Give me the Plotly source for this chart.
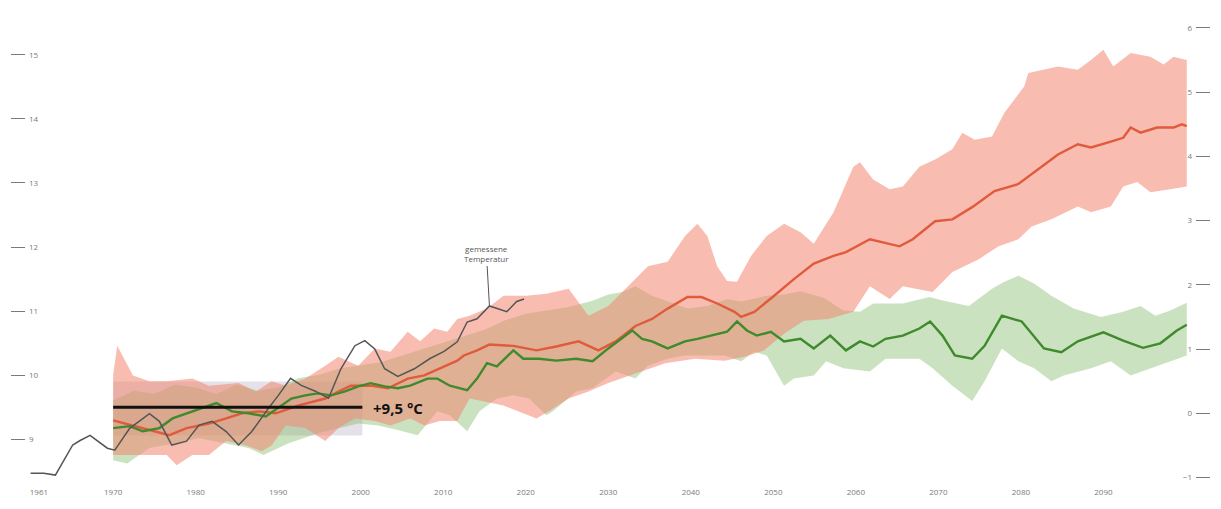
import plotly.graph_objects as go

# ---- measured temperature (absolute, left axis, °C) ----
meas_year = [1960.0, 1961.6, 1963.0, 1965.1, 1966.0, 1967.2, 1969.3, 1970.2, 1972.0, 1974.4,
             1975.6, 1977.1, 1978.9, 1980.4, 1982.0, 1983.7, 1985.2, 1986.8, 1988.8, 1990.0,
             1991.5, 1992.8, 1994.5, 1996.1, 1997.6, 1999.3, 2000.5, 2001.7, 2002.9, 2004.5,
             2006.5, 2008.4, 2010.1, 2011.7, 2012.9, 2014.1, 2015.6, 2016.5, 2017.7, 2018.9, 2019.8]
meas_temp = [8.47, 8.47, 8.44, 8.91, 8.98, 9.06, 8.86, 8.83, 9.17, 9.40,
             9.28, 8.91, 8.97, 9.22, 9.28, 9.12, 8.91, 9.12, 9.48, 9.68,
             9.95, 9.84, 9.75, 9.64, 10.10, 10.46, 10.54, 10.41, 10.10, 9.98,
             10.10, 10.26, 10.37, 10.52, 10.83, 10.88, 11.08, 11.04, 10.99, 11.15, 11.19]

# ---- high-emission scenario (anomaly, right axis) ----
red_year = [1970.0, 1972.4, 1974.4, 1976.8, 1978.9, 1980.4, 1981.6, 1983.7, 1985.6, 1987.6,
            1989.7, 1992.4, 1995.7, 1997.3, 1998.8, 2001.2, 2003.3, 2005.7, 2007.7, 2009.6,
            2011.7, 2012.5, 2014.1, 2015.6, 2018.5, 2021.3, 2023.7, 2026.4, 2028.8, 2030.9,
            2033.3, 2035.3, 2037.2, 2039.6, 2041.3, 2043.2, 2045.3, 2046.1, 2047.7, 2050.1,
            2052.5, 2054.9, 2057.3, 2058.8, 2061.7, 2065.3, 2066.9, 2069.6, 2071.7, 2074.1,
            2076.8, 2079.7, 2081.3, 2084.5, 2086.9, 2088.5, 2090.9, 2092.4, 2093.3, 2094.5,
            2096.5, 2098.5, 2099.5, 2100.1]
red_mid = [-0.11, -0.19, -0.26, -0.34, -0.23, -0.19, -0.16, -0.08, 0.00, 0.03,
           0.00, 0.12, 0.23, 0.34, 0.43, 0.43, 0.39, 0.54, 0.59, 0.70,
           0.82, 0.90, 0.98, 1.07, 1.05, 0.98, 1.04, 1.12, 0.98, 1.12,
           1.36, 1.47, 1.63, 1.81, 1.81, 1.71, 1.58, 1.50, 1.58, 1.83,
           2.09, 2.33, 2.45, 2.51, 2.71, 2.60, 2.71, 2.99, 3.02, 3.21,
           3.46, 3.57, 3.72, 4.03, 4.19, 4.14, 4.23, 4.29, 4.45, 4.37,
           4.45, 4.45, 4.50, 4.47]

red_up_year = [1970.0, 1970.5, 1972.4, 1974.4, 1976.5, 1979.6, 1981.6, 1985.2, 1987.3, 1989.2,
               1990.9, 1993.3, 1995.7, 1997.3, 1999.7, 2001.7, 2003.6, 2005.7, 2007.2, 2008.9,
               2010.5, 2011.7, 2013.2, 2015.3, 2017.3, 2020.1, 2022.5, 2025.2, 2027.6, 2030.0,
               2032.4, 2034.8, 2037.2, 2039.3, 2040.8, 2042.0, 2043.2, 2044.4, 2045.6, 2047.3,
               2049.2, 2051.3, 2053.3, 2054.9, 2057.3, 2059.7, 2060.5, 2062.1, 2064.1, 2065.7,
               2067.7, 2069.6, 2071.7, 2072.9, 2074.4, 2076.5, 2078.0, 2080.4, 2080.9, 2084.5,
               2086.9, 2088.5, 2090.0, 2091.2, 2093.3, 2095.7, 2097.3, 2098.5, 2100.1]
red_up = [0.60, 1.05, 0.59, 0.50, 0.50, 0.54, 0.43, 0.47, 0.34, 0.50,
          0.43, 0.54, 0.74, 0.88, 0.74, 1.01, 0.96, 1.27, 1.12, 1.32,
          1.27, 1.47, 1.52, 1.63, 1.83, 1.83, 1.86, 1.94, 1.52, 1.67,
          1.98, 2.29, 2.36, 2.76, 2.95, 2.76, 2.29, 2.06, 2.05, 2.45,
          2.76, 2.95, 2.82, 2.64, 3.13, 3.84, 3.91, 3.64, 3.49, 3.53,
          3.84, 3.95, 4.11, 4.37, 4.26, 4.31, 4.68, 5.09, 5.30, 5.40,
          5.35, 5.50, 5.66, 5.40, 5.61, 5.55, 5.43, 5.55, 5.50]

red_lo_year = [1970.0, 1972.4, 1976.5, 1977.7, 1979.6, 1981.6, 1983.7, 1986.1, 1988.0, 1989.2,
               1990.9, 1993.3, 1995.7, 1997.3, 1999.3, 2001.7, 2003.6, 2006.0, 2007.7, 2009.6,
               2011.7, 2013.2, 2017.3, 2021.3, 2022.8, 2025.2, 2027.6, 2030.0, 2033.3, 2036.9,
               2040.5, 2044.1, 2046.5, 2048.9, 2051.3, 2053.7, 2056.7, 2059.7, 2061.7, 2064.1,
               2065.7, 2069.3, 2071.7, 2074.9, 2077.3, 2079.7, 2081.3, 2083.7, 2086.9, 2088.5,
               2090.9, 2092.4, 2094.1, 2095.7, 2098.1, 2100.1]
red_lo = [-0.65, -0.65, -0.65, -0.81, -0.65, -0.65, -0.43, -0.50, -0.59, -0.50,
          -0.19, -0.23, -0.43, -0.23, -0.08, -0.12, -0.19, -0.08, -0.19, -0.12,
          -0.12, 0.23, 0.12, -0.08, 0.03, 0.23, 0.34, 0.47, 0.62, 0.78,
          0.85, 0.82, 0.88, 0.98, 1.24, 1.44, 1.47, 1.58, 1.98, 1.78,
          1.98, 1.89, 2.20, 2.40, 2.60, 2.71, 2.91, 3.02, 3.22, 3.13,
          3.22, 3.53, 3.60, 3.44, 3.49, 3.53]

# ---- climate-protection scenario (anomaly, right axis) ----
green_year = [1970.0, 1972.0, 1973.6, 1975.6, 1977.2, 1978.9, 1980.8, 1982.5, 1984.4, 1986.4,
              1988.5, 1990.0, 1991.6, 1993.3, 1994.8, 1996.4, 1998.1, 1999.7, 2001.2, 2002.9,
              2004.5, 2006.0, 2008.1, 2009.3, 2010.8, 2012.9, 2014.1, 2015.3, 2016.5, 2018.5,
              2019.7, 2021.6, 2023.7, 2026.1, 2028.1, 2030.0, 2032.9, 2034.1, 2035.3, 2037.2,
              2039.3, 2040.8, 2042.5, 2044.4, 2045.6, 2046.8, 2048.0, 2049.7, 2051.3, 2053.3,
              2054.9, 2056.9, 2058.8, 2060.5, 2062.1, 2063.6, 2065.7, 2067.7, 2069.0, 2070.5,
              2072.0, 2074.1, 2075.6, 2077.7, 2080.1, 2082.8, 2084.9, 2086.9, 2090.0, 2092.4,
              2094.8, 2096.9, 2098.9, 2100.1]
green_mid = [-0.23, -0.20, -0.28, -0.23, -0.08, 0.00, 0.08, 0.16, 0.03, 0.00,
             -0.05, 0.08, 0.23, 0.28, 0.31, 0.28, 0.34, 0.42, 0.47, 0.42,
             0.39, 0.43, 0.54, 0.54, 0.43, 0.36, 0.54, 0.78, 0.73, 0.98,
             0.85, 0.85, 0.82, 0.85, 0.81, 1.01, 1.29, 1.16, 1.12, 1.01,
             1.12, 1.16, 1.21, 1.27, 1.43, 1.29, 1.21, 1.27, 1.12, 1.16,
             1.01, 1.21, 0.98, 1.12, 1.04, 1.16, 1.21, 1.32, 1.43, 1.21,
             0.90, 0.85, 1.05, 1.52, 1.43, 1.01, 0.95, 1.12, 1.26, 1.13,
             1.02, 1.09, 1.29, 1.38]

green_up_year = [1970.0, 1972.5, 1975.0, 1977.5, 1980.0, 1982.5, 1985.0, 1987.5, 1990.0, 1992.5,
                 1995.0, 1997.5, 2000.0, 2002.5, 2005.0, 2007.5, 2010.0, 2012.5, 2015.0, 2017.5,
                 2020.0, 2022.5, 2025.0, 2028.0, 2030.0, 2031.7, 2033.3, 2035.3, 2037.2, 2039.6,
                 2042.0, 2044.4, 2046.1, 2049.2, 2051.3, 2053.3, 2056.1, 2058.5, 2060.5, 2062.1,
                 2065.7, 2068.9, 2070.8, 2073.7, 2076.5, 2078.0, 2079.7, 2081.6, 2083.7, 2086.4,
                 2089.7, 2092.4, 2094.5, 2096.3, 2098.1, 2100.1]
green_up = [0.20, 0.35, 0.30, 0.45, 0.40, 0.30, 0.45, 0.35, 0.40, 0.55,
            0.60, 0.70, 0.75, 0.80, 0.90, 1.00, 1.10, 1.20, 1.30, 1.45,
            1.55, 1.60, 1.65, 1.75, 1.85, 1.89, 1.98, 1.83, 1.74, 1.63,
            1.67, 1.78, 1.74, 1.83, 1.85, 1.90, 1.80, 1.60, 1.58, 1.71,
            1.71, 1.81, 1.75, 1.67, 1.94, 2.05, 2.14, 2.02, 1.83, 1.63,
            1.50, 1.58, 1.67, 1.52, 1.60, 1.72]

green_lo_year = [1970.0, 1971.7, 1974.4, 1977.4, 1980.4, 1983.4, 1986.4, 1988.2, 1991.2, 1994.8,
                 1997.3, 1999.7, 2002.1, 2004.5, 2006.9, 2009.3, 2010.8, 2012.9, 2014.4, 2016.5,
                 2018.5, 2020.4, 2022.5, 2023.3, 2026.1, 2028.1, 2030.9, 2033.3, 2034.8, 2037.2,
                 2039.3, 2042.0, 2044.1, 2046.1, 2047.7, 2049.2, 2051.3, 2052.5, 2054.9, 2056.4,
                 2058.5, 2061.7, 2063.6, 2067.7, 2069.3, 2071.7, 2074.1, 2075.6, 2077.7, 2079.7,
                 2081.6, 2083.7, 2085.2, 2088.5, 2090.9, 2093.3, 2095.7, 2098.1, 2100.1]
green_lo = [-0.73, -0.78, -0.54, -0.47, -0.39, -0.47, -0.54, -0.65, -0.47, -0.31,
            -0.23, -0.16, -0.19, -0.26, -0.34, 0.03, -0.03, -0.28, 0.03, 0.23,
            0.28, 0.23, -0.03, 0.03, 0.34, 0.39, 0.65, 0.54, 0.74, 0.85,
            0.90, 0.90, 0.90, 0.81, 0.96, 0.90, 0.43, 0.54, 0.59, 0.81,
            0.70, 0.65, 0.85, 0.85, 0.70, 0.43, 0.19, 0.50, 1.01, 0.81,
            0.70, 0.50, 0.59, 0.70, 0.81, 0.59, 0.70, 0.81, 0.90]

# ---- reference period 1970-2000 (left axis) ----
ref_years = [1970.0, 2000.2]
ref_band = [9.06, 9.90]
ref_level = 9.5
ref_label = "+9,5 °C"
meas_label = "gemessene<br>Temperatur"
meas_label_year = 2015.6
meas_label_value = 11.08

x_ticks = [1961, 1970, 1980, 1990, 2000, 2010, 2020, 2030, 2040, 2050, 2060, 2070, 2080, 2090, 2100]
left_ticks = [9, 10, 11, 12, 13, 14, 15]
right_ticks = [-1, 0, 1, 2, 3, 4, 5, 6]

RED_LINE = "#e05a3c"
RED_FILL = "rgba(242,135,112,0.55)"
GREEN_LINE = "#3e8a2c"
GREEN_FILL = "rgba(130,185,105,0.42)"
TICK_COL = "#7a7a7a"

fig = go.Figure()

# green band (anomaly axis = primary "y", on the right)
fig.add_trace(go.Scatter(
    x=green_up_year + green_lo_year[::-1], y=green_up + green_lo[::-1],
    fill="toself", fillcolor=GREEN_FILL, line=dict(width=0), mode="lines",
    yaxis="y", hoverinfo="skip", showlegend=False))
# red band
fig.add_trace(go.Scatter(
    x=red_up_year + red_lo_year[::-1], y=red_up + red_lo[::-1],
    fill="toself", fillcolor=RED_FILL, line=dict(width=0), mode="lines",
    yaxis="y", hoverinfo="skip", showlegend=False))
# medians
fig.add_trace(go.Scatter(x=red_year, y=red_mid, mode="lines",
                         line=dict(color=RED_LINE, width=2.4), yaxis="y", showlegend=False))
fig.add_trace(go.Scatter(x=green_year, y=green_mid, mode="lines",
                         line=dict(color=GREEN_LINE, width=2.4), yaxis="y", showlegend=False))
# measured (absolute axis = overlay "y2", on the left, drawn on top)
fig.add_trace(go.Scatter(x=meas_year, y=meas_temp, mode="lines", yaxis="y2",
                         line=dict(color="#555555", width=1.5), showlegend=False))
# reference level line
fig.add_trace(go.Scatter(x=ref_years, y=[ref_level, ref_level], mode="lines", yaxis="y2",
                         line=dict(color="#111111", width=3), showlegend=False))

fig.add_shape(type="rect", xref="x", yref="y2", layer="below",
              x0=ref_years[0], x1=ref_years[1], y0=ref_band[0], y1=ref_band[1],
              fillcolor="rgba(205,200,215,0.55)", line=dict(width=0))

fig.add_annotation(x=ref_years[1], y=ref_level, xref="x", yref="y2", text=ref_label,
                   showarrow=False, xanchor="left", xshift=9, yshift=-1,
                   font=dict(family="Open Sans", size=15, color="#111111", weight="bold"))
fig.add_annotation(x=meas_label_year, y=meas_label_value, xref="x", yref="y2", text=meas_label,
                   showarrow=True, arrowhead=0, arrowwidth=1, arrowcolor="#555555",
                   ax=-3, ay=-52, align="center",
                   font=dict(family="Open Sans", size=8, color="#555555"))

fig.update_layout(
    width=1221, height=509,
    margin=dict(l=25, r=16, t=20, b=21),
    paper_bgcolor="white", plot_bgcolor="white",
    xaxis=dict(range=[1959.44, 2101.1], tickvals=x_ticks, ticktext=[str(t) for t in x_ticks],
               showgrid=False, zeroline=False, showline=False, ticks="",
               tickfont=dict(family="Open Sans", size=8, color=TICK_COL)),
    yaxis=dict(range=[-1.132, 6.124], tickvals=right_ticks, side="right",
               showgrid=False, zeroline=False, showline=False, ticks="outside", ticklen=14,
               tickcolor=TICK_COL, tickwidth=1, ticklabelposition="inside",
               tickfont=dict(family="Open Sans", size=8, color=TICK_COL)),
    yaxis2=dict(range=[8.27, 15.544], tickvals=left_ticks, overlaying="y", side="left",
                showgrid=False, zeroline=False, showline=False, ticks="outside", ticklen=14,
                tickcolor=TICK_COL, tickwidth=1, ticklabelposition="inside",
                tickfont=dict(family="Open Sans", size=8, color=TICK_COL)),
)

fig.write_html("out.html")
